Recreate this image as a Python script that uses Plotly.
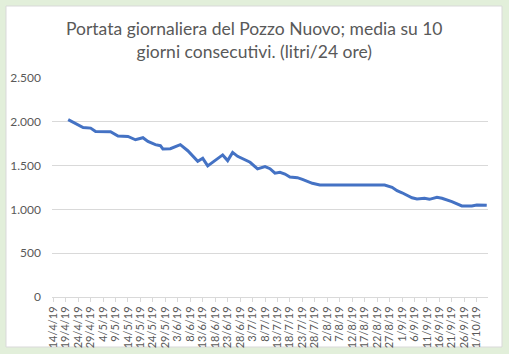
import plotly.graph_objects as go

title_text = "Portata giornaliera del Pozzo Nuovo; media su 10<br>giorni consecutivi. (litri/24 ore)"

dates = [
    "2019-04-20", "2019-04-23", "2019-04-24", "2019-04-26", "2019-04-29", "2019-05-01",
    "2019-05-07", "2019-05-10", "2019-05-14", "2019-05-17", "2019-05-20", "2019-05-22",
    "2019-05-25", "2019-05-27", "2019-05-28", "2019-05-31", "2019-06-04", "2019-06-06",
    "2019-06-07", "2019-06-11", "2019-06-13", "2019-06-15", "2019-06-18", "2019-06-21",
    "2019-06-23", "2019-06-25", "2019-06-27", "2019-07-01", "2019-07-02", "2019-07-05",
    "2019-07-08", "2019-07-10", "2019-07-12", "2019-07-14", "2019-07-16", "2019-07-18",
    "2019-07-21", "2019-07-23", "2019-07-25", "2019-07-27", "2019-07-30", "2019-08-25",
    "2019-08-28", "2019-08-30", "2019-09-01", "2019-09-05", "2019-09-07", "2019-09-10",
    "2019-09-12", "2019-09-15", "2019-09-17", "2019-09-21", "2019-09-25", "2019-09-29",
    "2019-10-01", "2019-10-05",
]
portata = [
    2025, 1980, 1970, 1935, 1928, 1890,
    1886, 1837, 1833, 1795, 1818, 1776,
    1739, 1727, 1690, 1693, 1739, 1686,
    1670, 1549, 1583, 1497, 1557, 1622,
    1557, 1651, 1606, 1557, 1538, 1462,
    1489, 1465, 1413, 1423, 1404, 1370,
    1362, 1343, 1316, 1298, 1278, 1278,
    1252, 1213, 1190, 1133, 1119, 1127,
    1115, 1138, 1127, 1088, 1039, 1039,
    1050, 1047,
]
y_ticks = [0, 500, 1000, 1500, 2000, 2500]

fig = go.Figure()
fig.add_trace(go.Scatter(
    x=dates, y=portata, mode="lines",
    line=dict(color="#4472C4", width=3),
    hoverinfo="skip", showlegend=False,
))

grey = "#595959"
fig.update_layout(
    width=509, height=354,
    margin=dict(l=52, r=21, t=78, b=57),
    paper_bgcolor="#E2EFDA",
    plot_bgcolor="white",
    separators=",.",
    font=dict(family="Lato", color=grey),
    shapes=[dict(
        type="rect", xref="paper", yref="paper", layer="below",
        x0=-46 / 436, x1=1 + 14 / 436, y0=-50 / 219, y1=1 + 72 / 219,
        fillcolor="white", line=dict(color="#D9D9D9", width=1),
    )],
    annotations=[dict(
        text=title_text, xref="paper", yref="paper",
        x=(254.5 - 52) / 436, y=1 + (78 - 40) / 219,
        xanchor="center", yanchor="middle", showarrow=False,
        font=dict(family="Lato", size=17.5, color=grey),
    )],
)
fig.update_xaxes(
    type="date", automargin=False,
    range=["2019-04-13 12:00", "2019-10-05 12:00"],
    tick0="2019-04-14", dtick=5 * 86400000,
    tickformat="%-d/%-m/%y", tickangle=-90,
    tickfont=dict(size=11, color=grey),
    showgrid=False, showline=True, linecolor="#D9D9D9", linewidth=1,
    ticks="outside", ticklen=4, tickcolor="#D9D9D9",
    zeroline=False,
)
fig.update_yaxes(
    range=[0, 2500], tickvals=y_ticks, tickformat=",", automargin=False,
    tickfont=dict(size=12, color=grey),
    showgrid=True, gridcolor="#D9D9D9", gridwidth=1,
    showline=False, zeroline=False, ticks="", ticklabelstandoff=10,
)

fig.write_html("out.html")
